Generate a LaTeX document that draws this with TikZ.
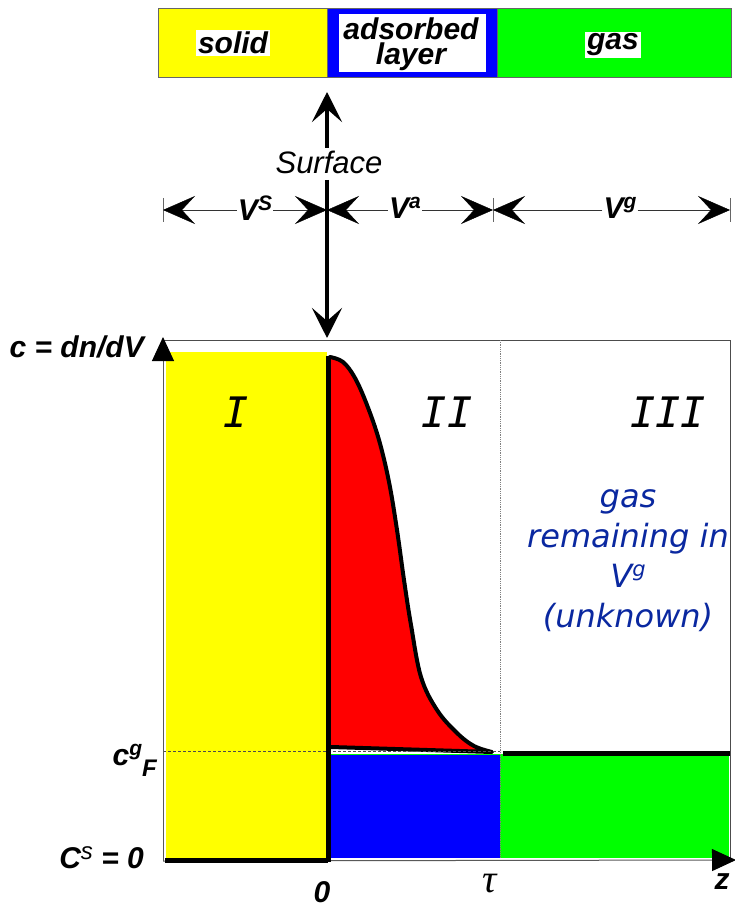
\documentclass[tikz,border=0pt]{standalone}
\usepackage{fontspec}
\setmainfont{Liberation Sans}
\newfontfamily\monofam{DejaVu Sans Mono}
\newfontfamily\dvfam{DejaVu Sans}
\newfontfamily\seriffam{Liberation Serif}
\usetikzlibrary{arrows.meta,calc}
\definecolor{pyellow}{RGB}{255,255,0}
\definecolor{pblue}{RGB}{0,0,255}
\definecolor{pgreen}{RGB}{0,255,0}
\definecolor{pred}{RGB}{255,0,0}
\definecolor{txtblue}{RGB}{10,40,160}
\tikzset{
  lbl/.style={font=\fontsize{30}{26}\selectfont\bfseries\itshape, inner sep=1pt},
  barlbl/.style={lbl, fill=white, inner sep=2pt, align=center},
  roman/.style={font=\fontsize{42}{42}\selectfont\monofam\itshape},
  dimline/.style={thin, draw=black!80},
  dimtip/.style={-{Stealth[length=32pt,width=28pt,inset=13pt,color=black]}},
  surftip/.style={-{Stealth[length=30pt,width=30pt,inset=13pt]}},
  axis/.style={draw=black!65, line width=1pt},
  axtip/.style={-{Triangle[length=24pt,width=22pt,color=black,fill=black]}},
  heavy/.style={line width=5pt, black},
}
\begin{document}
\begin{tikzpicture}[x=1pt,y=-1pt]
\useasboundingbox (0,0) rectangle (735,909);
% ---------- top bar ----------
\draw[black!60, fill=pyellow] (158,8) rectangle (327,77);
\draw[black!60, fill=pblue] (327,8) rectangle (497,77);
\fill[white] (339,14) rectangle (486,72);
\draw[black!60, fill=pgreen] (497,8) rectangle (731,77);
\node[barlbl] (solid) at (233,43) {solid};
\node[lbl, align=center, font=\fontsize{30}{25}\selectfont\bfseries\itshape] (ads) at (411,44) {adsorbed\\layer};
\node[barlbl] (gasb) at (613,45) {gas};
% ---------- surface arrow ----------
\coordinate (sup) at (327,92);
\coordinate (sbot) at (327,338);
\node[font=\fontsize{31}{31}\selectfont\itshape] (surf) at (329,162) {Surface};
\draw[line width=4.5pt, surftip] (327,148) -- (sup);
\draw[line width=4.5pt, surftip] (327,180) -- (sbot);
% ---------- dimension line ----------
\coordinate (d0) at (163,210);
\coordinate (d1) at (327,210);
\coordinate (d2) at (493,210);
\coordinate (d3) at (730,210);
\foreach \p in {d0,d2,d3} \draw[black!60, thin] ($(\p)+(0,-12)$) -- ($(\p)+(0,12)$);
\node[lbl, fill=white] (vs) at (255,208) {V\raisebox{0.32em}{\fontsize{21}{21}\selectfont S}};
\node[lbl, fill=white] (va) at (405,208) {V\raisebox{0.32em}{\fontsize{21}{21}\selectfont a}};
\node[lbl, fill=white] (vg) at (620,208) {V\raisebox{0.32em}{\fontsize{21}{21}\selectfont g}};
\draw[dimline, dimtip] (vs.west |- d0) -- (d0);
\draw[dimline, dimtip] (vs.east |- d1) -- (d1);
\draw[dimline, dimtip] (va.west |- d1) -- (d1);
\draw[dimline, dimtip] (va.east |- d2) -- (d2);
\draw[dimline, dimtip] (vg.west |- d2) -- (d2);
\draw[dimline, dimtip] (vg.east |- d3) -- (d3);
% ---------- plot fills ----------
\fill[pyellow] (166,352) rectangle (327,858);
\fill[pblue] (330,754) rectangle (500,858);
\fill[pgreen] (500,754) rectangle (729,858);
\draw[pgreen, line width=1pt] (330,754) -- (500,754);
% red adsorbed profile
\fill[pred] (329,357) -- plot[smooth, tension=0.6] coordinates {(330,357) (343,362) (355,378) (367,405) (379,440) (389,482) (397,530) (404,580) (411,625) (421,677) (437,710) (457,733) (474,746) (492,752)} -- (331,747) -- cycle;
\draw[line width=4pt, line join=round, line cap=round] plot[smooth, tension=0.6] coordinates {(330,357) (343,362) (355,378) (367,405) (379,440) (389,482) (397,530) (404,580) (411,625) (421,677) (437,710) (457,733) (474,746) (492,752)} -- (331,747);
% frame
\draw[black!70, line width=0.8pt] (163,340) -- (730,340) -- (730,860);
\draw[black!50, densely dotted, line width=0.8pt] (500,340) -- (500,858);
\draw[black!70, densely dashed, line width=0.4pt] (163,751) -- (500,751);
% axes
\coordinate (orig) at (163,861);
\coordinate (ytop) at (163,337);
\coordinate (xend) at (736,860);
\draw[axis, axtip] (orig) -- (ytop);
\draw[axis, axtip] (orig) -- (xend);
% heavy lines
\draw[heavy] (165,860) -- (328,860);
\draw[heavy] (328,862) -- (328,356);
\draw[heavy] (503,753) -- (730,753);
% ---------- labels ----------
\node[roman] (r1) at (236,412) {I};
\node[roman] (r2) at (447,412) {II};
\node[roman] (r3) at (668,412) {III};
\node[font=\fontsize{32}{40}\selectfont\dvfam\itshape, text=txtblue, align=center] (gasrem) at (628,561) {gas\\remaining in\\V\raisebox{0.35em}{\fontsize{21}{21}\selectfont g}\\(unknown)};
\node[lbl, anchor=east] (cax) at (145,347) {c = dn/dV};
\node[lbl, anchor=east] (cgf) at (158,760) {c\raisebox{0.35em}{\fontsize{21}{21}\selectfont g}\raisebox{-0.35em}{\fontsize{24}{24}\selectfont F}};
\node[lbl, anchor=east] (cs0) at (145,858) {C\raisebox{0.3em}{\fontsize{24}{24}\selectfont\mdseries s} = 0};
\node[lbl] (zero) at (322,892) {0};
\node[font=\fontsize{40}{40}\selectfont\seriffam\itshape] (tau) at (490,884) {τ};
\node[lbl] (zlab) at (722,882) {z};
\end{tikzpicture}
\end{document}
